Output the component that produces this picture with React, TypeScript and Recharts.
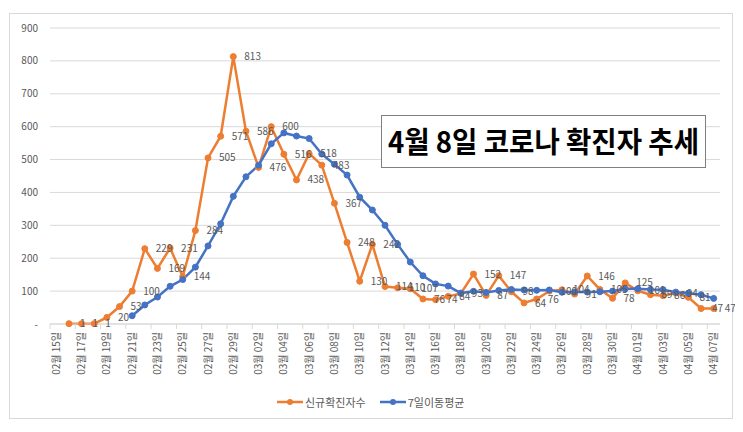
import { LineChart, Line, XAxis, YAxis, CartesianGrid, LabelList } from 'recharts'

// 2020-02-15 ~ 2020-04-07, one entry per day
const dates = [
  '02월 15일', '02월 16일', '02월 17일', '02월 18일', '02월 19일', '02월 20일', '02월 21일',
  '02월 22일', '02월 23일', '02월 24일', '02월 25일', '02월 26일', '02월 27일', '02월 28일',
  '02월 29일', '03월 01일', '03월 02일', '03월 03일', '03월 04일', '03월 05일', '03월 06일',
  '03월 07일', '03월 08일', '03월 09일', '03월 10일', '03월 11일', '03월 12일', '03월 13일',
  '03월 14일', '03월 15일', '03월 16일', '03월 17일', '03월 18일', '03월 19일', '03월 20일',
  '03월 21일', '03월 22일', '03월 23일', '03월 24일', '03월 25일', '03월 26일', '03월 27일',
  '03월 28일', '03월 29일', '03월 30일', '03월 31일', '04월 01일', '04월 02일', '04월 03일',
  '04월 04일', '04월 05일', '04월 06일', '04월 07일',
]

// 신규확진자수
const newCases: (number | null)[] = [
  null, 1, 1, 1, 20, 53, 100,
  229, 169, 231, 144, 284, 505, 571,
  813, 586, 476, 600, 516, 438, 518,
  483, 367, 248, 130, 242, 114, 110,
  107, 76, 74, 84, 93, 152, 87,
  147, 98, 64, 76, 100, 104, 91,
  146, 105, 78, 125, 101, 89, 86,
  94, 81, 47, 47,
]

// 7일이동평균
const movingAvg: (number | null)[] = [
  null, null, null, null, null, null, 25.1,
  57.9, 81.9, 114.7, 135.1, 172.9, 237.4, 304.7,
  388.1, 447.7, 482.7, 547.9, 581.0, 571.4, 563.9,
  516.7, 485.4, 452.9, 385.7, 346.6, 300.3, 242.0,
  188.3, 146.7, 121.9, 115.3, 94.0, 99.4, 96.1,
  101.9, 105.0, 103.6, 102.4, 103.4, 96.6, 97.1,
  97.0, 98.0, 100.0, 107.0, 107.1, 105.0, 104.3,
  96.9, 93.4, 89.0, 77.9,
]

const yTicks = [0, 100, 200, 300, 400, 500, 600, 700, 800, 900]

const ORANGE = '#ED7D31'
const BLUE = '#4472C4'
const GRID = '#d9d9d9'
const TEXT = '#595959'
const FONT = "'Noto Sans CJK KR', 'Noto Sans', sans-serif"

const W = 735
const H = 424
const PLOT_W = 670
const STEP = PLOT_W / dates.length

const data = dates.map((d, i) => ({ date: d, cases: newCases[i], avg: movingAvg[i] }))

function DateTick(props: any) {
  const { x, y, payload } = props
  const bx = x - STEP / 2
  return (
    <g>
      <line x1={bx} y1={y - 8} x2={bx} y2={y - 3} stroke={GRID} />
      <text
        x={x}
        y={y}
        transform={`rotate(-90, ${x}, ${y})`}
        textAnchor="end"
        dy="0.35em"
        fill={TEXT}
        fontSize={10}
        fontFamily={FONT}
      >
        {payload.value}
      </text>
    </g>
  )
}

function LegendIcon({ color }: { color: string }) {
  return (
    <svg width={26} height={10}>
      <line x1={0} y1={5} x2={26} y2={5} stroke={color} strokeWidth={2.5} />
      <circle cx={13} cy={5} r={3} fill={color} />
    </svg>
  )
}

export default function App() {
  return (
    <div style={{ position: 'relative', width: W, height: H, fontFamily: FONT }}>
      <div
        style={{
          position: 'absolute', left: 1, top: 5, width: 724, height: 406,
          border: `1px solid ${GRID}`, boxSizing: 'border-box', background: '#fff',
        }}
      />
      <div style={{ position: 'absolute', left: 0, top: 0 }}>
        <LineChart width={W} height={H} data={data} margin={{ top: 20, right: 23, left: 2, bottom: 48 }}>
          <CartesianGrid vertical={false} stroke={GRID} />
          <XAxis
            dataKey="date"
            interval={1}
            height={60}
            padding={{ left: STEP / 2, right: STEP / 2 }}
            axisLine={{ stroke: GRID }}
            tickLine={false}
            tickSize={0}
            tickMargin={8}
            tick={<DateTick />}
          />
          <YAxis
            width={40}
            domain={[0, 900]}
            ticks={yTicks}
            axisLine={false}
            tickLine={false}
            tickSize={0}
            tickMargin={12}
            tick={{ fill: TEXT, fontSize: 10, fontFamily: FONT }}
            tickFormatter={(v) => (v === 0 ? '-' : String(v))}
          />
          <Line
            dataKey="cases"
            stroke={ORANGE}
            strokeWidth={2.5}
            dot={{ r: 3, fill: ORANGE, stroke: ORANGE, strokeWidth: 1 }}
            activeDot={false}
            isAnimationActive={false}
          />
          <Line
            dataKey="avg"
            stroke={BLUE}
            strokeWidth={2.5}
            dot={{ r: 3, fill: BLUE, stroke: BLUE, strokeWidth: 1 }}
            activeDot={false}
            isAnimationActive={false}
          />
          {/* value labels sit above both series */}
          <Line
            dataKey="cases"
            stroke="none"
            dot={false}
            activeDot={false}
            legendType="none"
            isAnimationActive={false}
          >
            <LabelList dataKey="cases" position="right" offset={11} fill={TEXT} fontSize={10} fontFamily={FONT} />
          </Line>
        </LineChart>
      </div>
      <div
        style={{
          position: 'absolute', left: 373, top: 107, width: 325, height: 53,
          border: '1px solid #7f7f7f', boxSizing: 'border-box', background: '#fff',
        }}
      >
        <svg width={323} height={51} style={{ display: 'block' }}>
          <text
            x={161.5}
            y={37}
            textAnchor="middle"
            textLength={311}
            lengthAdjust="spacingAndGlyphs"
            fontSize={29}
            fontWeight={700}
            fontFamily={FONT}
            fill="#000"
          >
            4월 8일 코로나 확진자 추세
          </text>
        </svg>
      </div>
      <div
        style={{
          position: 'absolute', left: 269, top: 386, display: 'flex', alignItems: 'center',
          fontSize: 11, color: TEXT,
        }}
      >
        <LegendIcon color={ORANGE} />
        <span style={{ marginLeft: 2 }}>신규확진자수</span>
        <span style={{ width: 14 }} />
        <LegendIcon color={BLUE} />
        <span style={{ marginLeft: 2 }}>7일이동평균</span>
      </div>
    </div>
  )
}
